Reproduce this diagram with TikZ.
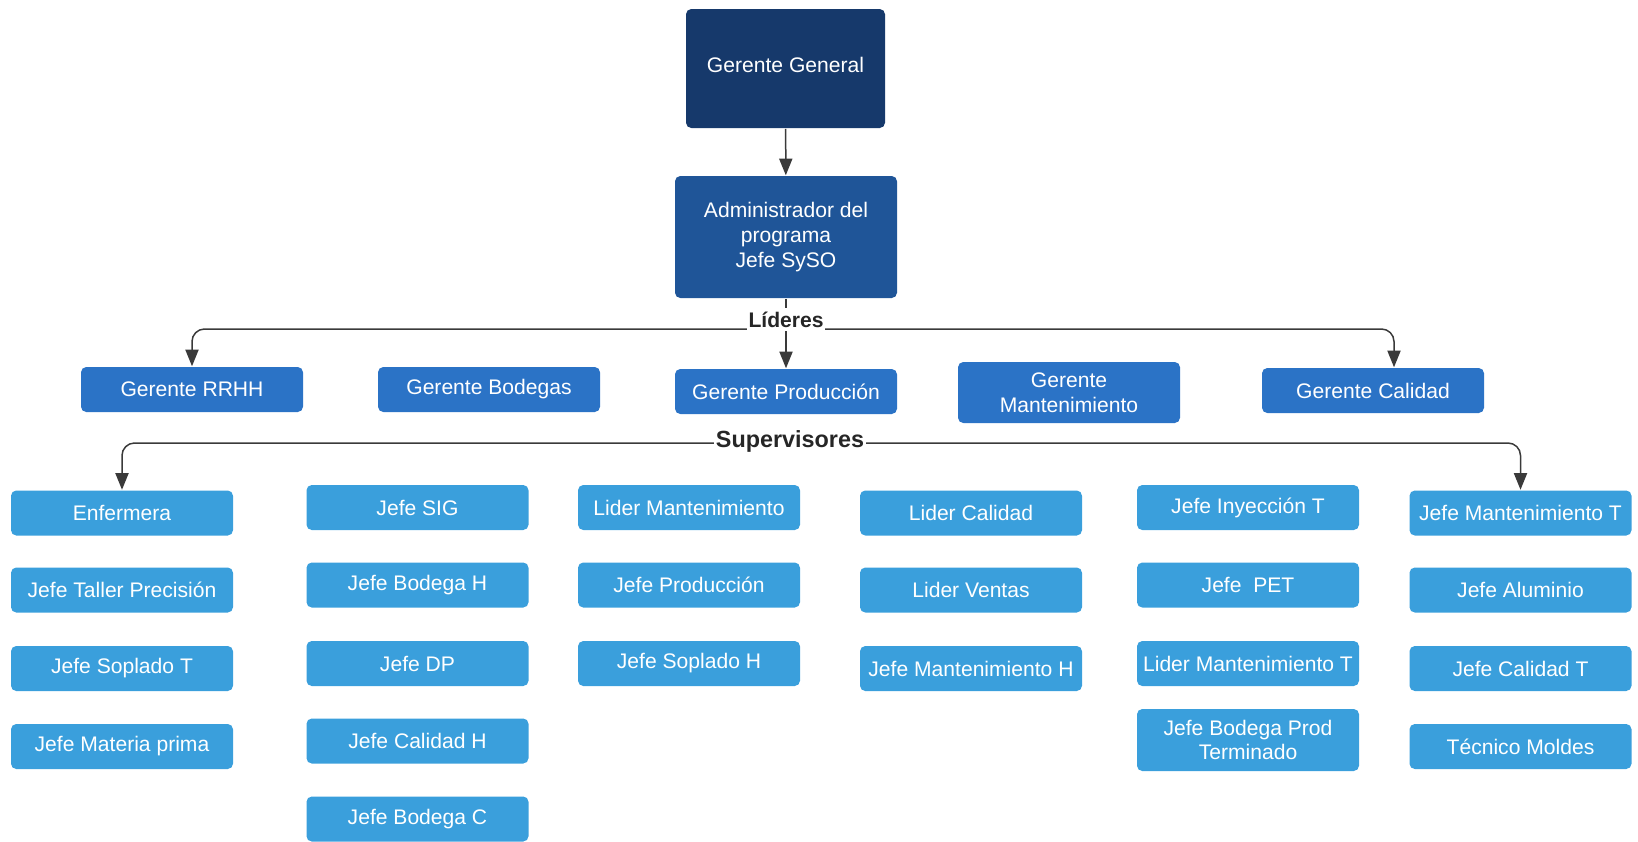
\documentclass[tikz,border=0pt]{standalone}
\usepackage{fontspec}
\setmainfont{Liberation Sans}
\usetikzlibrary{arrows.meta}

\definecolor{navy}{HTML}{16396B}
\definecolor{admblue}{HTML}{1F5598}
\definecolor{gerblue}{HTML}{2B73C6}
\definecolor{supblue}{HTML}{3A9FDC}
\definecolor{linegray}{HTML}{3A3A3A}

\begin{document}
\begin{tikzpicture}[line width = 0.3mm,
    box/.style = {fill = #1, rounded corners = 3pt, text = white, align = center,
        minimum width = 4.44cm, minimum height = 0.9cm, inner sep = 0pt,
        font = \fontsize{12}{14}\selectfont},
    conn/.style = {draw = linegray, rounded corners = 0.25cm,
        -{Triangle[length = 9.5pt, width = 7.5pt]}},
    lbl/.style = {fill = white, inner xsep = 1pt, inner ysep = 2pt, text = black!85}]

        \useasboundingbox (0.0, 0.0) rectangle (32.76, -16.82);

        % Top of the chart.
        \node[box = navy, minimum width = 3.98cm, minimum height = 2.38cm] (gg) at (15.71, -1.37) {\raisebox{0.16cm}{Gerente General}};
        \node[box = admblue, minimum height = 2.44cm] (admin) at (15.72, -4.74) {Administrador del\\programa\\Jefe SySO};

        % Leaders.
        \node[box = gerblue] (rrhh) at (3.84, -7.79) {Gerente RRHH};
        \node[box = gerblue] (bod) at (9.78, -7.79) {Gerente Bodegas};
        \node[box = gerblue] (gp) at (15.72, -7.83) {Gerente Producción};
        \node[box = gerblue, minimum height = 1.22cm] (gm) at (21.38, -7.85) {Gerente\\Mantenimiento};
        \node[box = gerblue] (gc) at (27.46, -7.81) {Gerente Calidad};

        % Supervisors, first column.
        \node[box = supblue] (enf) at (2.44, -10.26) {Enfermera};
        \node[box = supblue] (jtp) at (2.44, -11.80) {Jefe Taller Precisión};
        \node[box = supblue] (jst) at (2.44, -13.37) {Jefe Soplado T};
        \node[box = supblue] (jmp) at (2.44, -14.93) {Jefe Materia prima};

        % Second column.
        \node[box = supblue] (jsig) at (8.35, -10.15) {Jefe SIG};
        \node[box = supblue] (jbh) at (8.35, -11.70) {Jefe Bodega H};
        \node[box = supblue] (jdp) at (8.35, -13.27) {Jefe DP};
        \node[box = supblue] (jch) at (8.35, -14.82) {Jefe Calidad H};
        \node[box = supblue] (jbc) at (8.35, -16.38) {Jefe Bodega C};

        % Third column.
        \node[box = supblue] (lm) at (13.78, -10.15) {Lider Mantenimiento};
        \node[box = supblue] (jp) at (13.78, -11.70) {Jefe Producción};
        \node[box = supblue] (jsh) at (13.78, -13.27) {Jefe Soplado H};

        % Fourth column.
        \node[box = supblue] (lc) at (19.42, -10.26) {Lider Calidad};
        \node[box = supblue] (lv) at (19.42, -11.80) {Lider Ventas};
        \node[box = supblue] (jmh) at (19.42, -13.37) {Jefe Mantenimiento H};

        % Fifth column.
        \node[box = supblue] (jit) at (24.96, -10.15) {Jefe Inyección T};
        \node[box = supblue] (jpet) at (24.96, -11.70) {Jefe\ \ PET};
        \node[box = supblue] (lmt) at (24.96, -13.27) {Lider Mantenimiento T};
        \node[box = supblue, minimum height = 1.24cm] (jbpt) at (24.96, -14.80) {Jefe Bodega Prod\\Terminado};

        % Sixth column.
        \node[box = supblue] (jmt) at (30.41, -10.26) {Jefe Mantenimiento T};
        \node[box = supblue] (jal) at (30.41, -11.80) {Jefe Aluminio};
        \node[box = supblue] (jct) at (30.41, -13.37) {Jefe Calidad T};
        \node[box = supblue] (tm) at (30.41, -14.93) {Técnico Moldes};

        % Connectors from the top boxes to the leaders.
        \draw[conn] (gg) -- (admin);
        \coordinate (lidc) at (15.72, -6.58);
        \draw[conn] (admin.south) -- (gp.north);
        \draw[conn] (lidc) -| (rrhh.north);
        \draw[conn] (lidc) -| ([xshift = 0.42cm]gc.north);
        \node[lbl, font = \fontsize{12}{14}\selectfont\bfseries] (lid) at (15.72, -6.39) {Líderes};

        % Connectors to the supervisors.
        \coordinate (supc) at (15.80, -8.86);
        \draw[conn] (supc) -| (enf.north);
        \draw[conn] (supc) -| (jmt.north);
        \node[lbl, font = \fontsize{13.3}{15}\selectfont\bfseries] (sup) at (15.80, -8.82) {Supervisores};
    \end{tikzpicture}
\end{document}
